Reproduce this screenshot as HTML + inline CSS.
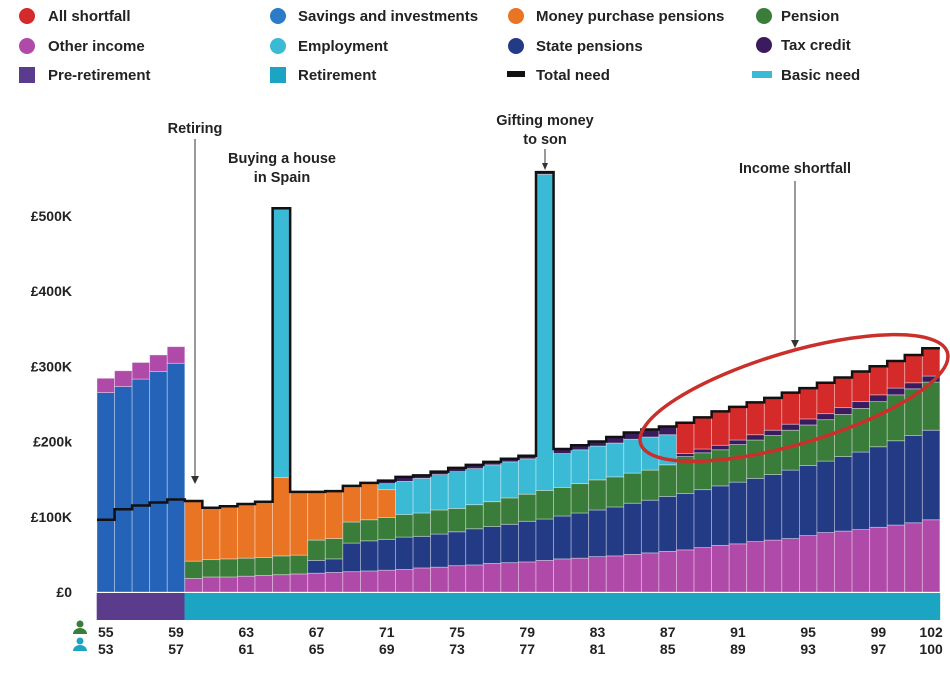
<!DOCTYPE html>
<html><head><meta charset="utf-8"><style>
body{margin:0;background:#fff;}
svg{display:block;font-family:"Liberation Sans",sans-serif;font-weight:bold;}
</style></head><body>
<svg id="chart" width="950" height="677" viewBox="0 0 950 677">
<g id="legend" font-size="15" fill="#222">
<g><circle cx="27" cy="16" r="8" fill="#d42a2a"/><text x="48" y="21">All shortfall</text></g>
<g><circle cx="278" cy="16" r="8" fill="#2a7bc8"/><text x="298" y="21">Savings and investments</text></g>
<g><circle cx="516" cy="16" r="8" fill="#e87424"/><text x="536" y="21">Money purchase pensions</text></g>
<g><circle cx="764" cy="16" r="8" fill="#3a7d3a"/><text x="781" y="21">Pension</text></g>
<g><circle cx="27" cy="46" r="8" fill="#b04aa8"/><text x="48" y="51">Other income</text></g>
<g><circle cx="278" cy="46" r="8" fill="#3bbad6"/><text x="298" y="51">Employment</text></g>
<g><circle cx="516" cy="46" r="8" fill="#233a85"/><text x="536" y="51">State pensions</text></g>
<g><circle cx="764" cy="45" r="8" fill="#3a1c5e"/><text x="781" y="50">Tax credit</text></g>
<g><rect x="19" y="67" width="16" height="16" fill="#5b3b8c"/><text x="48" y="80">Pre-retirement</text></g>
<g><rect x="270" y="67" width="16" height="16" fill="#1ca5c2"/><text x="298" y="80">Retirement</text></g>
<g><rect x="507" y="71" width="18" height="6" fill="#111"/><text x="536" y="80">Total need</text></g>
<g><rect x="752" y="71" width="20" height="7" fill="#3bbad6"/><text x="781" y="80">Basic need</text></g>
</g>
<g id="yaxis" font-size="14" fill="#222" text-anchor="end"></g>
<g id="bars"></g>
<g id="band"></g>
<path id="need" fill="none" stroke="#111" stroke-width="2.5"/>
<g id="xaxis" font-size="14" fill="#222" text-anchor="middle"></g>
<g>
<circle cx="80" cy="624" r="3.5" fill="#3a7d3a"/><path d="M73,634 a7,6 0 0 1 14,0z" fill="#3a7d3a"/>
<circle cx="80" cy="641" r="3.5" fill="#1ca5c2"/><path d="M73,651 a7,6 0 0 1 14,0z" fill="#1ca5c2"/>
</g>
<g font-size="14.5" fill="#222" text-anchor="middle">
<text x="195" y="133">Retiring</text>
<line x1="195" y1="139" x2="195" y2="478" stroke="#333" stroke-width="1"/><path d="M191,476 L195,484 L199,476z" fill="#333"/>
<text x="282" y="163">Buying a house</text>
<text x="282" y="182">in Spain</text>
<text x="545" y="125">Gifting money</text>
<text x="545" y="144">to son</text>
<line x1="545" y1="149" x2="545" y2="165" stroke="#333"/><path d="M542,163 L545,170 L548,163z" fill="#333"/>
<text x="795" y="173">Income shortfall</text>
<line x1="795" y1="181" x2="795" y2="342" stroke="#333"/><path d="M791,340 L795,348 L799,340z" fill="#333"/>
<ellipse cx="794" cy="398" rx="160" ry="46" transform="rotate(-16.5 794 398)" fill="none" stroke="#c9302c" stroke-width="3.5"/>
</g>
</svg>
<script>
const ages = [55,56,57,58,59,60,61,62,63,64,65,66,67,68,69,70,71,72,73,74,75,76,77,78,79,80,81,82,83,84,85,86,87,88,89,90,91,92,93,94,95,96,97,98,99,100,101,102];
const spouseAges = ages.map(a => a - 2);
const savings = [265,273,283,293,304,0,0,0,0,0,0,0,0,0,0,0,0,0,0,0,0,0,0,0,0,0,0,0,0,0,0,0,0,0,0,0,0,0,0,0,0,0,0,0,0,0,0,0];
const otherIncome = [19,21,22,22,22,18,20,20,21,22,23,24,25,26,27,28,29,30,32,33,35,36,38,39,40,42,44,45,47,48,50,52,54,56,59,62,64,67,69,71,75,79,81,83,86,89,92,96];
const statePension = [0,0,0,0,0,0,0,0,0,0,0,0,17,18,38,40,41,43,42,44,45,48,49,51,54,55,57,60,62,65,68,70,73,75,77,79,82,84,87,91,93,95,99,103,107,112,116,119];
const pension = [0,0,0,0,0,23,23,24,24,24,25,25,27,27,28,28,29,30,31,32,31,32,33,35,36,38,38,39,40,40,40,40,42,49,49,48,50,51,52,53,54,55,56,58,60,61,62,64];
const moneyPurchase = [0,0,0,0,0,80,69,70,72,74,104,84,64,63,48,49,37,0,0,0,0,0,0,0,0,0,0,0,0,0,0,0,0,0,0,0,0,0,0,0,0,0,0,0,0,0,0,0];
const employment = [0,0,0,0,0,0,0,0,0,0,358,0,0,0,0,0,8,44,46,47,49,48,49,48,47,420,45,45,45,45,45,44,40,0,0,0,0,0,0,0,0,0,0,0,0,0,0,0];
const taxCredit = [0,0,0,0,0,0,0,0,0,0,0,0,0,0,0,0,4,6,4,4,5,5,4,4,4,3,6,6,6,8,9,10,11,4,5,6,6,7,7,8,8,8,9,9,9,9,8,8];
const shortfall = [0,0,0,0,0,0,0,0,0,0,0,0,0,0,0,0,0,0,0,0,0,0,0,0,0,0,0,0,0,0,0,0,0,41,42,45,44,43,42,42,41,41,40,40,38,36,37,37];
const totalNeed = [96,110,115,119,123,121,112,114,117,120,510,133,133,134,141,145,148,153,155,160,165,169,173,177,181,558,190,195,200,206,212,216,220,225,232,240,246,252,258,265,271,278,285,293,300,307,315,324];
const yTicks = [0,100,200,300,400,500];
const yTickLabels = ["£0","£100K","£200k","£300K","£400K","£500K"];
const retireAge = 60;

const NS = "http://www.w3.org/2000/svg";
const x0 = 97, bw = 17.56, y0 = 592, k = 0.7525;
const xs = i => x0 + i * bw;
const ys = v => y0 - v * k;
function mk(tag, attrs, parent){const e=document.createElementNS(NS,tag);for(const a in attrs)e.setAttribute(a,attrs[a]);parent.appendChild(e);return e;}

const yax = document.getElementById('yaxis');
yTicks.forEach((t,i)=>{
  const tx = mk('text',{x:72, y: ys(t)+5},yax);
  tx.textContent = yTickLabels[i];
  
  
});

const series = [
  {name:'savings', data:savings, color:'#2463b8'},
  {name:'other-income', data:otherIncome, color:'#b04aa8'},
  {name:'state-pension', data:statePension, color:'#233a85'},
  {name:'pension', data:pension, color:'#3a7d3a'},
  {name:'money-purchase', data:moneyPurchase, color:'#e87424'},
  {name:'employment', data:employment, color:'#3bbad6'},
  {name:'tax-credit', data:taxCredit, color:'#3a1c5e'},
  {name:'shortfall', data:shortfall, color:'#d42a2a'}
];
const bars = document.getElementById('bars');
ages.forEach((age,i)=>{
  let acc = 0;
  series.forEach(s=>{
    const v = s.data[i];
    if(!v) return;
    const r = mk('rect',{x:xs(i), y:ys(acc+v), width:bw, height:v*k, fill:s.color, stroke:'rgba(255,255,255,0.45)', 'stroke-width':0.8},bars);
    
    
    acc += v;
  });
});

const band = document.getElementById('band');
ages.forEach((age,i)=>{
  const r = mk('rect',{x:xs(i)-0.3, y:593, width:bw+0.6, height:27, fill: age<retireAge?'#5b3b8c':'#1ca5c2'},band);
  
  
});

let d='';
totalNeed.forEach((v,i)=>{ d += (i===0?'M':'L')+xs(i)+','+ys(v)+' L'+xs(i+1)+','+ys(v)+' '; });
document.getElementById('need').setAttribute('d',d);

const xax = document.getElementById('xaxis');
ages.forEach((age,i)=>{
  if(!((age-55)%4===0 || age===102)) return;
  const cx = xs(i)+bw/2;
  const t1 = mk('text',{x:cx, y:637},xax); t1.textContent = age;
  
  
  const t2 = mk('text',{x:cx, y:654},xax); t2.textContent = spouseAges[i];
  
  
});
</script>
</body></html>
